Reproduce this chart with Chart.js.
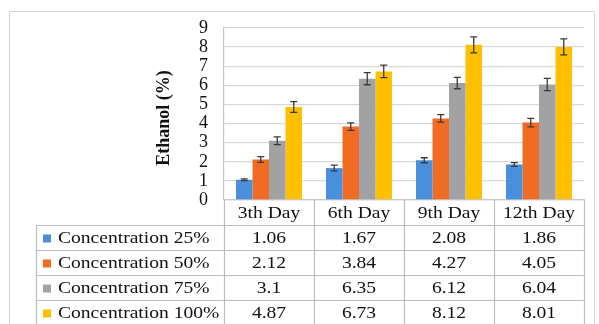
<!DOCTYPE html>
<html>
<head>
<meta charset="utf-8">
<script src="https://cdn.jsdelivr.net/npm/chart.js@4/dist/chart.umd.min.js"></script>
<style>
  html, body { margin: 0; padding: 0; background: #fff; }
  #wrap { width: 599px; height: 324px; position: relative; }
</style>
</head>
<body>
<div id="wrap"><canvas id="c"></canvas></div>
<script>
const categories = ['3th Day', '6th Day', '9th Day', '12th Day'];
const seriesNames = ['Concentration 25%', 'Concentration 50%', 'Concentration 75%', 'Concentration 100%'];
const conc25 = [1.06, 1.67, 2.08, 1.86];
const conc50 = [2.12, 3.84, 4.27, 4.05];
const conc75 = [3.1, 6.35, 6.12, 6.04];
const conc100 = [4.87, 6.73, 8.12, 8.01];
const err25 = [0.05, 0.15, 0.13, 0.1];
const err50 = [0.15, 0.2, 0.2, 0.22];
const err75 = [0.2, 0.32, 0.3, 0.32];
const err100 = [0.28, 0.33, 0.42, 0.42];
const yTitle = 'Ethanol (%)';
const colors = ['#4a8fdb', '#f26b22', '#a2a2a5', '#ffc000'];

const seriesValues = [conc25, conc50, conc75, conc100];
const seriesErrors = [err25, err50, err75, err100];

const SERIF = '"Liberation Serif", "Times New Roman", serif';
const STRETCH = 1.15;

function stretchedText(ctx, text, x, y, align) {
  ctx.save();
  ctx.translate(x, y);
  ctx.scale(STRETCH, 1);
  ctx.textAlign = align;
  ctx.textBaseline = 'middle';
  ctx.fillText(text, 0, 0);
  ctx.restore();
}

const extrasPlugin = {
  id: 'extras',
  afterDatasetsDraw(chart) {
    const ctx = chart.ctx;
    const y = chart.scales.y;
    ctx.save();
    ctx.strokeStyle = '#3a3a3a';
    ctx.lineWidth = 1.3;
    chart.data.datasets.forEach((ds, di) => {
      const meta = chart.getDatasetMeta(di);
      meta.data.forEach((bar, i) => {
        const v = ds.data[i];
        const e = seriesErrors[di][i];
        const yt = y.getPixelForValue(v + e);
        const yb = y.getPixelForValue(v - e);
        const x = bar.x;
        ctx.beginPath();
        ctx.moveTo(x, yt); ctx.lineTo(x, yb);
        ctx.moveTo(x - 3.5, yt); ctx.lineTo(x + 3.5, yt);
        ctx.moveTo(x - 3.5, yb); ctx.lineTo(x + 3.5, yb);
        ctx.stroke();
      });
    });
    ctx.restore();
  },
  afterDraw(chart) {
    const ctx = chart.ctx;
    const xs = chart.scales.x;
    const area = chart.chartArea;
    const left = area.left, right = area.right, top0 = area.bottom;
    const rowH = 25;
    const legendLeft = 36;
    const nRows = seriesNames.length;
    const colW = (right - left) / categories.length;

    ctx.save();
    ctx.strokeStyle = '#d4d4d4';
    ctx.lineWidth = 1;
    ctx.beginPath();
    ctx.moveTo(9.5, 324); ctx.lineTo(9.5, 11.5); ctx.lineTo(594.5, 11.5); ctx.lineTo(594.5, 324);
    ctx.stroke();

    ctx.strokeStyle = '#bdbdbd';
    ctx.lineWidth = 1.2;
    ctx.beginPath();
    for (let r = 1; r <= nRows + 1; r++) {
      const yy = Math.round(top0 + r * rowH) + 0.5;
      ctx.moveTo(legendLeft, yy); ctx.lineTo(right, yy);
    }
    for (let c = 0; c <= categories.length; c++) {
      const xx = Math.round(left + c * colW) + 0.5;
      ctx.moveTo(xx, top0); ctx.lineTo(xx, top0 + (nRows + 1) * rowH);
    }
    ctx.moveTo(legendLeft + 0.5, top0 + rowH); ctx.lineTo(legendLeft + 0.5, top0 + (nRows + 1) * rowH);
    ctx.stroke();

    ctx.fillStyle = '#111';
    ctx.font = '17px ' + SERIF;
    categories.forEach((cat, i) => {
      stretchedText(ctx, cat, xs.getPixelForTick(i), top0 + rowH / 2 + 1, 'center');
    });
    seriesNames.forEach((name, r) => {
      const cy = top0 + (r + 1) * rowH + rowH / 2 + 1;
      ctx.fillStyle = colors[r];
      ctx.fillRect(43, cy - 4, 8, 8);
      ctx.fillStyle = '#111';
      stretchedText(ctx, name, 58, cy, 'left');
      seriesValues[r].forEach((v, i) => {
        stretchedText(ctx, String(v), xs.getPixelForTick(i), cy, 'center');
      });
    });

    ctx.save();
    ctx.translate(164, 118);
    ctx.rotate(-Math.PI / 2);
    ctx.font = 'bold 18px ' + SERIF;
    ctx.textAlign = 'center';
    ctx.textBaseline = 'middle';
    ctx.fillStyle = '#111';
    ctx.fillText(yTitle, 0, 0);
    ctx.restore();
    ctx.restore();
  }
};

new Chart(document.getElementById('c'), {
  type: 'bar',
  data: {
    labels: categories,
    datasets: seriesNames.map((n, i) => ({
      label: n,
      data: seriesValues[i],
      backgroundColor: colors[i],
      borderWidth: 0,
      categoryPercentage: 0.733,
      barPercentage: 1.0
    }))
  },
  options: {
    responsive: true,
    maintainAspectRatio: false,
    animation: false,
    devicePixelRatio: 1,
    layout: { padding: { top: 28, right: 15, bottom: 124, left: 0 } },
    plugins: { legend: { display: false }, tooltip: { enabled: false }, title: { display: false } },
    scales: {
      x: {
        ticks: { display: false },
        grid: { display: false, drawTicks: false },
        border: { display: true, color: '#c8c8c8', width: 1.2 }
      },
      y: {
        min: 0, max: 9,
        ticks: { stepSize: 1, autoSkip: false, color: '#111', font: { family: SERIF, size: 18 }, padding: 16 },
        grid: { color: '#d9d9d9', lineWidth: 1.3, drawTicks: false },
        border: { display: true, color: '#c8c8c8', width: 1.2 },
        afterFit(scale) { scale.width = 224; }
      }
    }
  },
  plugins: [extrasPlugin]
});
</script>
</body>
</html>
